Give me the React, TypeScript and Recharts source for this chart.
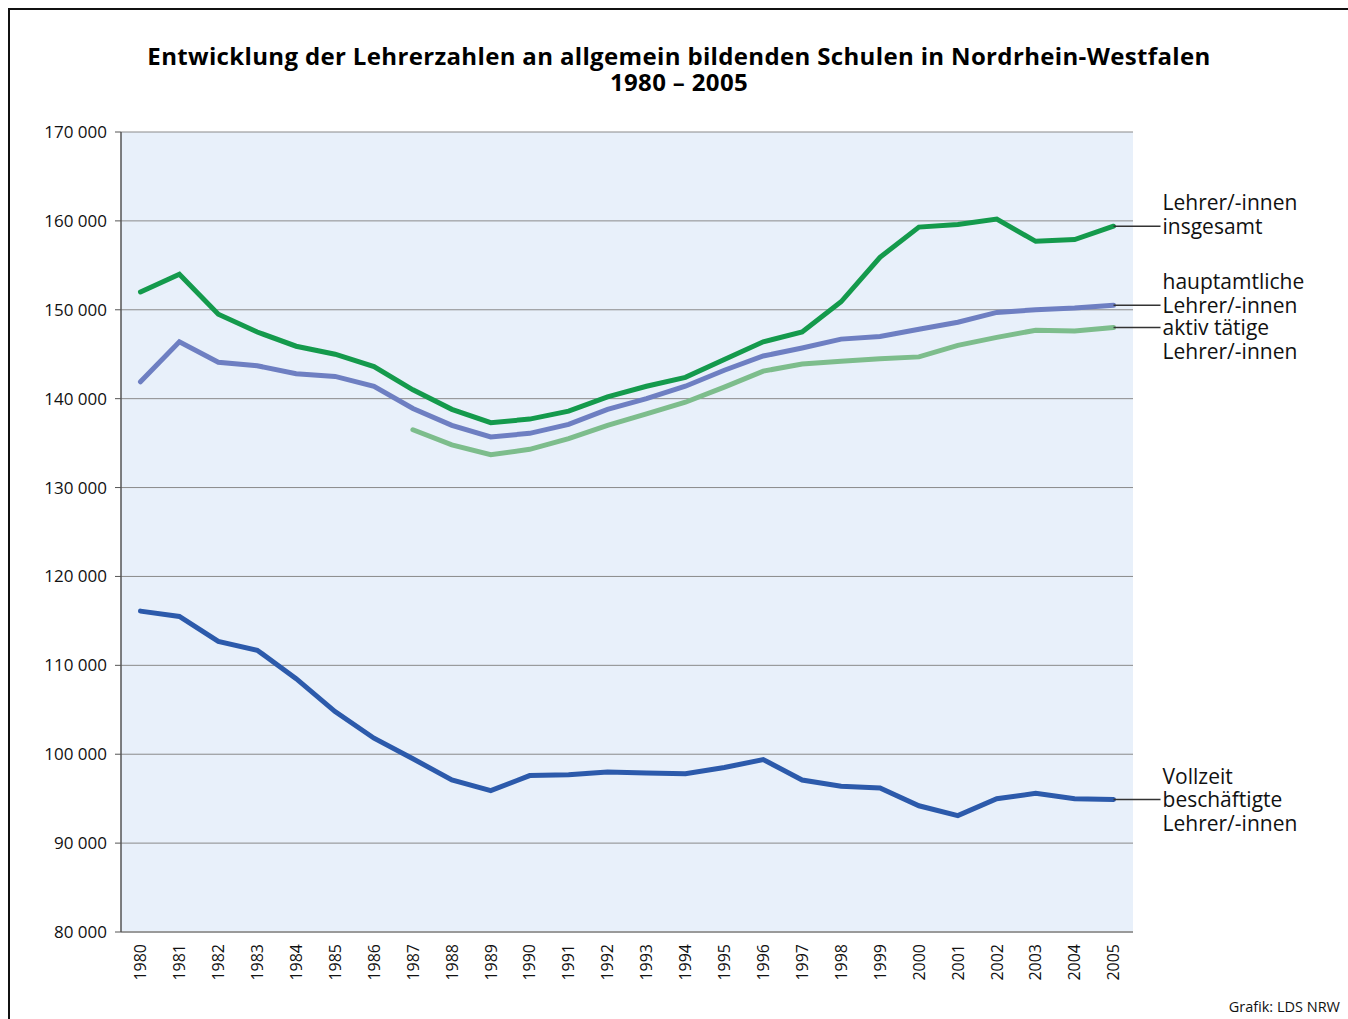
import React from "react";
import { LineChart, Line, XAxis, YAxis, CartesianGrid } from "recharts";

const years = ["1980","1981","1982","1983","1984","1985","1986","1987","1988","1989","1990","1991","1992","1993","1994","1995","1996","1997","1998","1999","2000","2001","2002","2003","2004","2005"];

const insgesamt = [152000,154000,149500,147500,145900,145000,143600,141000,138800,137300,137700,138600,140200,141400,142400,144400,146400,147500,150900,155900,159300,159600,160200,157700,157900,159400];
const hauptamtlich = [141900,146400,144100,143700,142800,142500,141400,138900,137000,135700,136100,137100,138800,140000,141400,143200,144800,145700,146700,147000,147800,148600,149700,150000,150200,150500];
const aktiv: (number | null)[] = [null,null,null,null,null,null,null,136500,134800,133700,134300,135500,137000,138300,139600,141300,143100,143900,144200,144500,144700,146000,146900,147700,147600,148000];
const vollzeit = [116100,115500,112700,111700,108500,104800,101800,99500,97100,95900,97600,97700,98000,97900,97800,98500,99400,97100,96400,96200,94200,93100,95000,95600,95000,94900];

const yTicks = [80000,90000,100000,110000,120000,130000,140000,150000,160000,170000];

const seriesLabels = {
  insgesamt: { lines: ["Lehrer/-innen", "insgesamt"], anchor: 1 },
  hauptamtlich: { lines: ["hauptamtliche", "Lehrer/-innen"], anchor: 1 },
  aktiv: { lines: ["aktiv tätige", "Lehrer/-innen"], anchor: 0 },
  vollzeit: { lines: ["Vollzeit", "beschäftigte", "Lehrer/-innen"], anchor: 1 },
};

const data = years.map((y, i) => ({
  year: y,
  insgesamt: insgesamt[i],
  hauptamtlich: hauptamtlich[i],
  aktiv: aktiv[i],
  vollzeit: vollzeit[i],
}));

const FONT = "'Open Sans', 'Noto Sans', sans-serif";
const LINE_H = 23.5;

const fmt = (v: number) => {
  const s = String(v);
  return s.slice(0, s.length - 3) + " " + s.slice(s.length - 3);
};

const makeLabel = (key: keyof typeof seriesLabels) => (props: any) => {
  const { x, y, index } = props;
  if (index !== years.length - 1) return null;
  const cfg = seriesLabels[key];
  const tx = x + 49;
  return (
    <g key={key + "-lbl"}>
      <line x1={x} y1={y} x2={tx - 2} y2={y} stroke="#333" strokeWidth={1.5} />
      {cfg.lines.map((t, i) => (
        <text
          key={i}
          x={tx}
          y={y + (i - cfg.anchor) * LINE_H}
          dy="0.36em"
          fontSize={21}
          fontFamily={FONT}
          fill="#111"
        >
          {t}
        </text>
      ))}
    </g>
  );
};

const XTick = (props: any) => {
  const { x, y, payload } = props;
  return (
    <g transform={`translate(${x},${y})`}>
      <text
        transform="rotate(-90)"
        x={-2}
        y={0}
        dy="0.36em"
        textAnchor="end"
        fontSize={16}
        fontFamily={FONT}
        fill="#111"
      >
        {payload.value}
      </text>
    </g>
  );
};

export default function App() {
  return (
    <div
      style={{
        position: "fixed",
        left: 8,
        top: 8,
        width: 1340,
        height: 1011,
        boxSizing: "border-box",
        borderLeft: "2px solid #111",
        borderTop: "2px solid #111",
        background: "#fff",
        fontFamily: FONT,
        overflow: "hidden",
      }}
    >
      <div
        style={{
          position: "absolute",
          left: 0,
          top: 33,
          width: 1338,
          textAlign: "center",
          fontWeight: 700,
          fontSize: 24,
          letterSpacing: 0.35,
          lineHeight: "26px",
          color: "#000",
        }}
      >
        <div>Entwicklung der Lehrerzahlen an allgemein bildenden Schulen in Nordrhein-Westfalen</div>
        <div>1980 – 2005</div>
      </div>
      <LineChart
        width={1338}
        height={1009}
        data={data}
        margin={{ top: 122, right: 215, bottom: 27, left: 0 }}
      >
        <CartesianGrid
          vertical={false}
          horizontal={true}
          stroke="#8a8a8a"
          strokeWidth={1}
          fill="#e8f0fa"
          fillOpacity={1}
        />
        <XAxis
          dataKey="year"
          scale="band"
          interval={0}
          height={60}
          tickLine={false}
          axisLine={{ stroke: "#9a9a9a", strokeWidth: 2 }}
          tick={<XTick />}
          tickMargin={4}
        />
        <YAxis
          type="number"
          domain={[80000, 170000]}
          ticks={yTicks}
          interval={0}
          width={111}
          tickSize={6}
          tickMargin={8}
          tickLine={{ stroke: "#555" }}
          axisLine={{ stroke: "#555", strokeWidth: 1.5 }}
          tickFormatter={fmt}
          tick={{ fill: "#111", fontSize: 17, fontFamily: FONT }}
        />
        <Line
          dataKey="insgesamt"
          stroke="#149a4c"
          strokeWidth={5}
          dot={false}
          isAnimationActive={false}
          strokeLinecap="round"
          label={makeLabel("insgesamt")}
        />
        <Line
          dataKey="hauptamtlich"
          stroke="#6e7fc2"
          strokeWidth={5}
          dot={false}
          isAnimationActive={false}
          strokeLinecap="round"
          label={makeLabel("hauptamtlich")}
        />
        <Line
          dataKey="aktiv"
          stroke="#7dbd8c"
          strokeWidth={5}
          dot={false}
          isAnimationActive={false}
          strokeLinecap="round"
          label={makeLabel("aktiv")}
        />
        <Line
          dataKey="vollzeit"
          stroke="#2c5aab"
          strokeWidth={5}
          dot={false}
          isAnimationActive={false}
          strokeLinecap="round"
          label={makeLabel("vollzeit")}
        />
      </LineChart>
      <div
        style={{
          position: "absolute",
          right: 8,
          top: 987,
          fontSize: 14.5,
          color: "#111",
        }}
      >
        Grafik: LDS NRW
      </div>
    </div>
  );
}
